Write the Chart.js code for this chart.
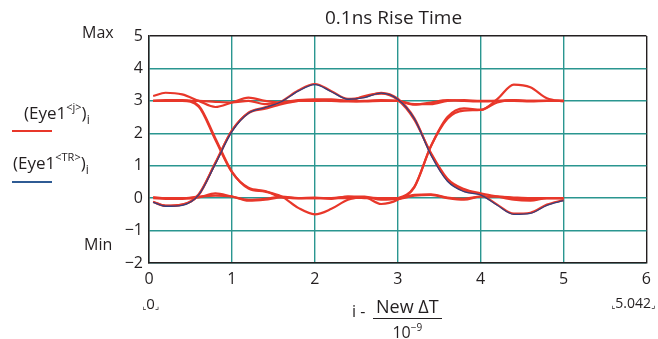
<!DOCTYPE html>
<html>
<head>
<meta charset="utf-8">
<script src="https://cdn.jsdelivr.net/npm/chart.js@4/dist/chart.umd.min.js"></script>
<style>
  body { margin: 0; background: #fff; font-family: "Open Sans", "Noto Sans", sans-serif; color: #231f20; }
  #wrap { position: relative; width: 658px; height: 339px; overflow: hidden; }
  #eye { position: absolute; left: 0; top: 0; }
  .lbl { position: absolute; white-space: nowrap; line-height: 1; }
  .lbl sup { font-size: 11px; vertical-align: 8px; }
  .lbl sub { font-size: 12px; vertical-align: -5px; }
  .key { position: absolute; width: 40px; height: 2px; }
  .frac { position: absolute; text-align: center; font-size: 18px; line-height: 1; }
  .frac .num { padding: 0 3px 3px 3px; border-bottom: 1.5px solid #231f20; }
  .frac .den { padding-top: 3px; font-size: 16px; }
  .frac .den sup { font-size: 10px; vertical-align: 7px; }
  .rng { font-family: "DejaVu Sans", sans-serif; font-size: 9px; }
</style>
</head>
<body>
<div id="wrap">
  <canvas id="eye" width="658" height="339"></canvas>

  <div class="lbl" style="left:325px; top:8px; font-size:19px;">0.1ns Rise Time</div>
  <div class="lbl" style="left:82px; top:24px; font-size:16px;">Max</div>
  <div class="lbl" style="left:84px; top:236px; font-size:16px;">Min</div>

  <div class="lbl" style="left:24px; top:101px; font-size:17px;">(Eye1<sup>&lt;j&gt;</sup>)<sub>i</sub></div>
  <div class="key" style="left:12px; top:130px; background:#e8372a;"></div>
  <div class="lbl" style="left:13px; top:151px; font-size:17px;">(Eye1<sup>&lt;TR&gt;</sup>)<sub>i</sub></div>
  <div class="key" style="left:12px; top:181px; background:#2f5b94;"></div>

  <div class="lbl" style="left:142px; top:296px; font-size:15px;"><span class="rng">⌞</span>0<span class="rng">⌟</span></div>
  <div class="lbl" style="left:611px; top:296px; font-size:14px;"><span class="rng">⌞</span>5.042<span class="rng">⌟</span></div>

  <div class="lbl" style="left:352px; top:303px; font-size:16px;">i -</div>
  <div class="frac" style="left:373px; top:297px;">
    <div class="num">New ΔT</div>
    <div class="den">10<sup>−9</sup></div>
  </div>
</div>

<script>
// sample times (ns) shared by every trace
const timeNs = [0.05, 0.2, 0.4, 0.6, 0.8, 1.0, 1.2, 1.4, 1.6, 1.8, 2.0, 2.2, 2.4,
                2.6, 2.8, 3.0, 3.2, 3.4, 3.6, 3.8, 4.0, 4.2, 4.4, 4.6, 4.8, 5.0];

// Eye1<TR> : the highlighted 0-1-0 trace
const eyeTR = [-0.13, -0.25, -0.22, 0.1, 1.05, 2.05, 2.62, 2.79, 2.98, 3.3, 3.5, 3.28, 3.05,
               3.1, 3.24, 3.05, 2.45, 1.33, 0.52, 0.2, 0.1, -0.22, -0.5, -0.47, -0.22, -0.08];

// Eye1<j> : one column per bit pattern
const eye010 = [-0.11, -0.23, -0.2, 0.12, 1.08, 2.08, 2.64, 2.8, 2.99, 3.32, 3.52, 3.3, 3.06,
                3.12, 3.25, 3.07, 2.47, 1.36, 0.55, 0.22, 0.12, -0.2, -0.48, -0.45, -0.2, -0.06];
const eye111 = [3.15, 3.25, 3.2, 3.0, 2.81, 2.95, 3.1, 3.0, 2.95, 3.0, 3.0, 3.02, 3.0,
                2.98, 3.0, 3.0, 2.9, 2.9, 3.0, 3.02, 3.0, 3.0, 3.0, 2.98, 3.0, 3.0];
const eye101 = [3.0, 3.02, 3.02, 2.85, 1.85, 0.82, 0.3, 0.2, 0.05, -0.3, -0.5, -0.33, -0.05,
                0.02, -0.18, -0.05, 0.33, 1.6, 2.5, 2.77, 2.72, 3.05, 3.5, 3.42, 3.08, 2.98];
const eye100 = [3.0, 3.0, 3.0, 2.82, 1.8, 0.8, 0.32, 0.22, 0.03, 0.0, 0.02, -0.02, 0.05,
                0.0, 0.0, -0.02, 0.08, 0.1, 0.0, -0.05, 0.05, 0.05, 0.0, -0.05, 0.0, 0.0];
const eye011 = [-0.12, -0.24, -0.2, 0.1, 1.08, 2.08, 2.62, 2.76, 2.9, 3.0, 3.02, 3.0, 2.98,
                3.0, 3.02, 3.0, 2.88, 2.95, 3.02, 3.0, 2.98, 3.0, 3.02, 3.0, 3.0, 3.0];
const eye001 = [0.03, 0.0, 0.0, 0.05, 0.08, 0.05, -0.08, -0.05, 0.02, 0.0, 0.0, 0.0, 0.05,
                0.05, -0.05, 0.0, 0.35, 1.6, 2.45, 2.7, 2.72, 2.95, 3.02, 3.0, 3.0, 3.0];
const eye110 = [3.0, 3.0, 3.0, 3.0, 2.97, 2.95, 3.0, 2.9, 2.95, 3.02, 3.05, 3.05, 3.0,
                3.15, 3.22, 3.03, 2.42, 1.4, 0.6, 0.28, 0.15, 0.05, -0.05, -0.08, 0.0, 0.0];
const eye000 = [0.0, -0.02, -0.02, 0.02, 0.15, 0.05, -0.05, -0.02, 0.05, 0.0, 0.0, 0.0, 0.0,
                0.02, 0.0, 0.0, 0.1, 0.12, 0.02, -0.02, 0.05, 0.05, 0.02, 0.0, 0.0, 0.0];

const redTraces = [eye010, eye111, eye101, eye100, eye011, eye001, eye110, eye000];

const xTicks = { min: 0, max: 6, step: 1 };
const yTicks = { min: -2, max: 5, step: 1 };

const RED = '#e8372a';
const BLUE = '#34407e';
const GRID = '#2a9690';
const FRAME = '#231f20';

function toPoints(ys) {
    return ys.map((y, i) => ({ x: timeNs[i], y: y }));
}

var datasets = [];
redTraces.forEach(function (ys) {
    datasets.push({
        data: toPoints(ys),
        borderColor: RED,
        borderWidth: 2.2,
        order: 1
    });
});
datasets.push({
    data: toPoints(eyeTR),
    borderColor: BLUE,
    borderWidth: 1.3,
    order: 0
});

function minusSign(v) {
    return String(v).replace('-', '\u2212');
}

new Chart('eye', {
    type: 'line',
    data: { datasets: datasets },
    options: {
        responsive: false,
        animation: false,
        devicePixelRatio: 1,
        layout: { padding: { top: 36, right: 10, left: 0, bottom: 0 } },
        elements: {
            point: { radius: 0 },
            line: { cubicInterpolationMode: 'monotone', fill: false }
        },
        plugins: { legend: { display: false }, tooltip: { enabled: false } },
        scales: {
            x: {
                type: 'linear',
                min: xTicks.min,
                max: xTicks.max,
                afterFit: function (scale) { scale.height = 76; },
                ticks: {
                    stepSize: xTicks.step,
                    padding: 7,
                    color: FRAME,
                    font: { family: '"Open Sans", sans-serif', size: 16 },
                    callback: minusSign
                },
                grid: {
                    drawTicks: false,
                    lineWidth: 1.4,
                    color: ctx => (ctx.tick && ctx.tick.value === xTicks.max) ? FRAME : GRID
                },
                border: { display: true, color: FRAME, width: 1.5 }
            },
            y: {
                min: yTicks.min,
                max: yTicks.max,
                afterFit: function (scale) { scale.width = 149; },
                ticks: {
                    stepSize: yTicks.step,
                    padding: 6,
                    color: FRAME,
                    font: { family: '"Open Sans", sans-serif', size: 16 },
                    callback: minusSign
                },
                grid: {
                    drawTicks: false,
                    lineWidth: 1.4,
                    color: ctx => (ctx.tick && ctx.tick.value === yTicks.max) ? FRAME : GRID
                },
                border: { display: true, color: FRAME, width: 1.5 }
            }
        }
    }
});
</script>
</body>
</html>
